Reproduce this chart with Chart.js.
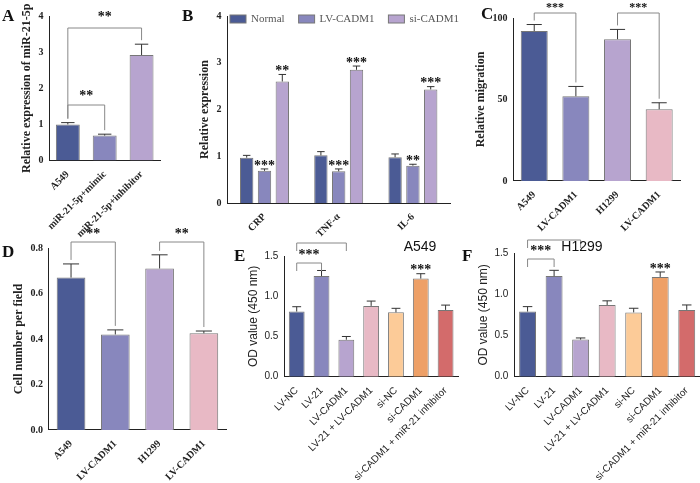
<!DOCTYPE html>
<html>
<head>
<meta charset="utf-8">
<script src="https://cdn.jsdelivr.net/npm/chart.js@4.4.0/dist/chart.umd.min.js"></script>
<style>
  body { margin: 0; background: #fff; }
  #wrap { position: relative; width: 700px; height: 483px; }
  canvas { position: absolute; }
</style>
</head>
<body>
<div id="wrap">
  <canvas id="cA" style="left:0;top:0"></canvas>
  <canvas id="cB" style="left:178px;top:0"></canvas>
  <canvas id="cC" style="left:458px;top:0"></canvas>
  <canvas id="cD" style="left:0;top:226px"></canvas>
  <canvas id="cE" style="left:232px;top:236px"></canvas>
  <canvas id="cF" style="left:462px;top:236px"></canvas>
</div>
<script>
// colours used across panels
const navy = "#4b5b95", lav = "#8887bd", lilac = "#b7a4cf", pink = "#e8b9c5";
const peach = "#fccb98", orange = "#eea067", red = "#d36b6b";

// A
const aLabels = ["A549", "miR-21-5p+mimic", "miR-21-5p+inhibitor"];
const aValues = [1.0, 0.69, 2.92];
const aErrors = [0.05, 0.04, 0.3];

// B
const bCategories = ["CRP", "TNF-α", "IL-6"];
const bSeries = ["Normal", "LV-CADM1", "si-CADM1"];
const bNormal = [0.97, 1.02, 0.98];
const bLv = [0.69, 0.68, 0.80];
const bSi = [2.60, 2.85, 2.43];
const bNormalErr = [0.05, 0.08, 0.07];
const bLvErr = [0.04, 0.05, 0.03];
const bSiErr = [0.15, 0.08, 0.06];
const bStarsLv = ["***", "***", "**"];
const bStarsSi = ["**", "***", "***"];

// C
const cLabels = ["A549", "LV-CADM1", "H1299", "LV-CADM1"];
const cValues = [92, 52, 87, 44];
const cErrors = [4, 6, 6, 4];

// D
const dLabels = ["A549", "LV-CADM1", "H1299", "LV-CADM1"];
const dValues = [0.67, 0.42, 0.71, 0.425];
const dErrors = [0.06, 0.02, 0.06, 0.01];

// E / F
const efLabels = ["LV-NC", "LV-21", "LV-CADM1", "LV-21 + LV-CADM1", "si-NC", "si-CADM1", "si-CADM1 + miR-21 inhibitor"];
const eValues = [0.81, 1.25, 0.46, 0.88, 0.80, 1.22, 0.83];
const eErrors = [0.06, 0.07, 0.04, 0.06, 0.05, 0.06, 0.06];
const fValues = [0.79, 1.22, 0.45, 0.87, 0.78, 1.21, 0.81];
const fErrors = [0.06, 0.07, 0.02, 0.05, 0.05, 0.06, 0.06];

const serif = "'Liberation Serif', 'Times New Roman', serif";
const sans = "'Liberation Sans', Arial, sans-serif";

// draws error bars, brackets, stars, panel letter, title, legend
const extras = {
  id: "extras",
  afterDatasetsDraw(chart, args, o) {
    const ctx = chart.ctx, y = chart.scales.y;
    ctx.save();
    ctx.strokeStyle = "#333"; ctx.lineWidth = 1;
    chart.data.datasets.forEach((ds, di) => {
      const meta = chart.getDatasetMeta(di);
      meta.data.forEach((bar, i) => {
        const top = y.getPixelForValue(ds.data[i] + ds.err[i]);
        const w = bar.width * 0.28;
        ctx.beginPath();
        ctx.moveTo(bar.x, bar.y); ctx.lineTo(bar.x, top);
        ctx.moveTo(bar.x - w, top); ctx.lineTo(bar.x + w, top);
        ctx.stroke();
        if (ds.stars && ds.stars[i]) {
          ctx.fillStyle = "#111"; ctx.font = "bold 14px " + serif;
          ctx.textAlign = "center"; ctx.textBaseline = "bottom";
          ctx.fillText(ds.stars[i], bar.x, top + 4);
        }
      });
    });
    const meta0 = chart.getDatasetMeta(0), ds0 = chart.data.datasets[0];
    (o.brackets || []).forEach(b => {
      const p1 = meta0.data[b[0]], p2 = meta0.data[b[1]];
      const yl = b[2];
      const d1 = y.getPixelForValue(ds0.data[b[0]] + ds0.err[b[0]]) - 4;
      const d2 = y.getPixelForValue(ds0.data[b[1]] + ds0.err[b[1]]) - 4;
      ctx.strokeStyle = "#888";
      ctx.beginPath();
      ctx.moveTo(p1.x, b[4] ? yl + 8 : d1); ctx.lineTo(p1.x, yl);
      ctx.lineTo(p2.x, yl); ctx.lineTo(p2.x, b[4] ? yl + 8 : d2);
      ctx.stroke();
      ctx.fillStyle = "#111"; ctx.font = "bold " + (o.starSize || 14) + "px " + serif;
      ctx.textAlign = "center"; ctx.textBaseline = "bottom";
      ctx.fillText(b[3], (p1.x + p2.x) / 2, yl + (b[5] || 1));
    });
    if (o.legend) {
      let lx = o.legend.x;
      ctx.font = "11px " + serif; ctx.textAlign = "left"; ctx.textBaseline = "middle";
      chart.data.datasets.forEach(ds => {
        ctx.fillStyle = ds.backgroundColor; ctx.strokeStyle = "#777";
        ctx.fillRect(lx, o.legend.y - 4, 16, 8); ctx.strokeRect(lx, o.legend.y - 4, 16, 8);
        ctx.fillStyle = "#555";
        ctx.fillText(ds.label, lx + 21, o.legend.y);
        lx += 21 + ctx.measureText(ds.label).width + 14;
      });
    }
    ctx.fillStyle = "#111";
    ctx.font = "bold 17px " + serif; ctx.textAlign = "left"; ctx.textBaseline = "top";
    ctx.fillText(o.letter, o.lx, o.ly);
    if (o.title) {
      ctx.font = "14px " + sans; ctx.textAlign = "center";
      ctx.fillText(o.title, o.tx, o.ty);
    }
    ctx.restore();
  }
};

function axes(font, ymax, step, ytitle, pad) {
  const isSerif = font === serif;
  const tick = { color: "#222", font: { family: font, size: 10, weight: isSerif ? "bold" : "normal" } };
  return {
    x: { grid: { display: false }, border: { color: "#222" },
         ticks: Object.assign({ maxRotation: 45, minRotation: 45, autoSkip: false, padding: 0 }, tick) },
    y: { min: 0, max: ymax, grid: { display: false, drawTicks: true, tickLength: 4 }, border: { color: "#222" },
         ticks: Object.assign({ stepSize: step, padding: 2, callback: v => v.toFixed(pad) }, tick),
         title: { display: true, text: ytitle, color: "#222", padding: 2,
                  font: { family: font, size: 12, weight: isSerif ? "bold" : "normal" } } }
  };
}

function makeChart(id, w, h, data, scales, plug, layoutPad) {
  const c = document.getElementById(id);
  c.width = w; c.height = h;
  return new Chart(c, {
    type: "bar",
    data,
    options: {
      responsive: false, animation: false,
      layout: { padding: layoutPad },
      plugins: { legend: { display: false }, tooltip: { enabled: false }, extras: plug },
      scales
    },
    plugins: [extras]
  });
}

function single(labels, values, errors, colors, extra) {
  return { labels, datasets: [Object.assign({ data: values, err: errors, backgroundColor: colors,
    borderColor: "#777", borderWidth: 1, categoryPercentage: 0.9, barPercentage: 0.72 }, extra || {})] };
}

// A
makeChart("cA", 172, 240, single(aLabels, aValues, aErrors, [navy, lav, lilac]),
  axes(serif, 4, 1, "Relative expression of miR-21-5p", 0),
  { letter: "A", lx: 2, ly: 8, brackets: [[0, 1, 105, "**", false, -2], [0, 2, 28, "**", false, -4]] },
  { top: 16, right: 12, left: 18, bottom: 0 });

// B
makeChart("cB", 290, 240, {
  labels: bCategories,
  datasets: [
    { label: bSeries[0], data: bNormal, err: bNormalErr, backgroundColor: navy },
    { label: bSeries[1], data: bLv, err: bLvErr, stars: bStarsLv, backgroundColor: lav },
    { label: bSeries[2], data: bSi, err: bSiErr, stars: bStarsSi, backgroundColor: lilac }
  ].map(d => Object.assign(d, { borderColor: "#777", borderWidth: 1, categoryPercentage: 0.72, barPercentage: 0.75 }))
}, axes(serif, 4, 1, "Relative expression", 0),
  { letter: "B", lx: 4, ly: 8, legend: { x: 52, y: 19 } },
  { top: 16, right: 18, left: 18, bottom: 0 });

// C
makeChart("cC", 242, 240, single(cLabels, cValues, cErrors, [navy, lav, lilac, pink]),
  axes(serif, 100, 50, "Relative migration", 0),
  { letter: "C", lx: 23, ly: 6, starSize: 12, brackets: [[0, 1, 13, "***", false, 0], [2, 3, 13, "***", false, 0]] },
  { top: 18, right: 20, left: 14, bottom: 6 });

// D
makeChart("cD", 232, 257, single(dLabels, dValues, dErrors, [navy, lav, lilac, pink]),
  axes(serif, 0.8, 0.2, "Cell number per field", 1),
  { letter: "D", lx: 2, ly: 18, brackets: [[0, 1, 16, "**", false, -1], [2, 3, 16, "**", false, -1]] },
  { top: 22, right: 6, left: 10, bottom: 0 });

// E
const efColors = [navy, lav, lilac, pink, peach, orange, red];
makeChart("cE", 232, 247, single(efLabels, eValues, eErrors, efColors,
  { stars: [null, null, null, null, null, "***", null], categoryPercentage: 0.85, barPercentage: 0.75 }),
  axes(sans, 1.5, 0.5, "OD value (450 nm)", 1),
  { letter: "E", lx: 2, ly: 12, title: "A549", tx: 188, ty: 4,
    brackets: [[0, 1, 27, "***", true, -1], [0, 2, 7, "***", true, -1]] },
  { top: 20, right: 6, left: 12, bottom: 0 });

// F
makeChart("cF", 238, 247, single(efLabels, fValues, fErrors, efColors,
  { stars: [null, null, null, null, null, "***", null], categoryPercentage: 0.85, barPercentage: 0.75 }),
  axes(sans, 1.5, 0.5, "OD value (450 nm)", 1),
  { letter: "F", lx: 0, ly: 12, title: "H1299", tx: 120, ty: 4,
    brackets: [[0, 1, 23, "***", true, -1], [0, 2, 4, "***", true, -1]] },
  { top: 17, right: 0, left: 12, bottom: 0 });
</script>
</body>
</html>
